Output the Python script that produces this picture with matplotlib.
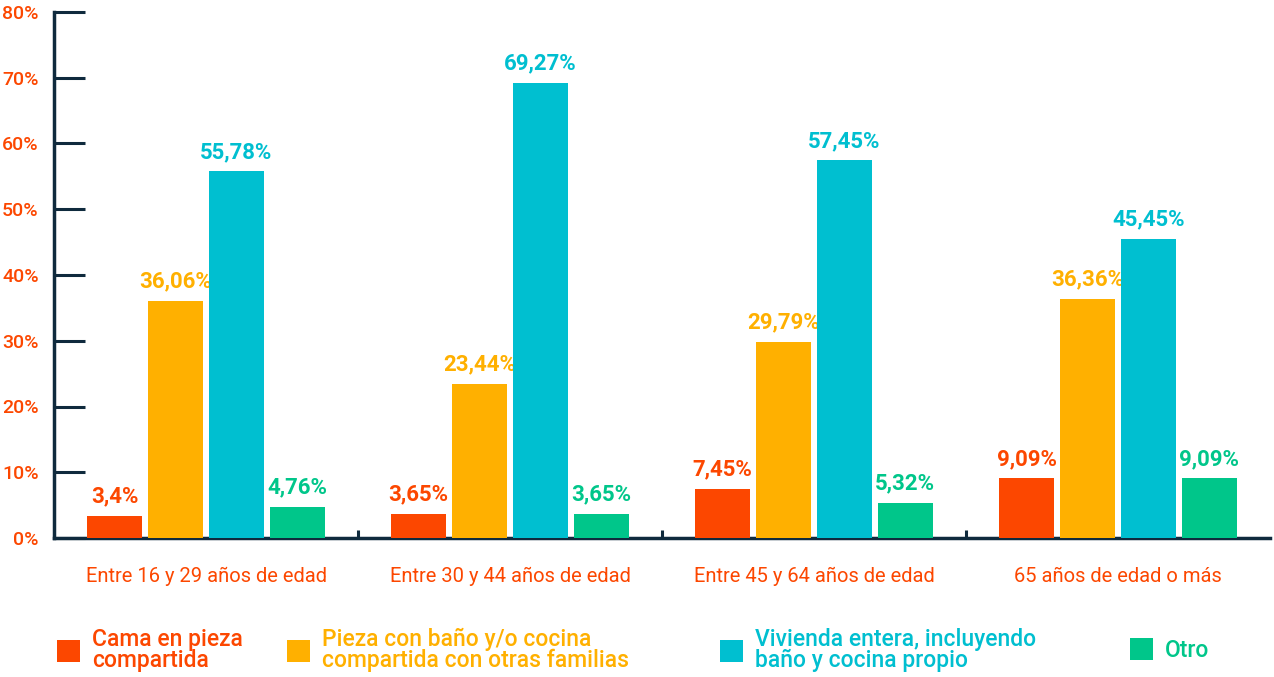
"""
Tipo de vivienda por grupo de edad - barras agrupadas
"""

import numpy as np
import matplotlib.pyplot as plt
from matplotlib.ticker import FuncFormatter

plt.rcParams['font.family'] = ['Roboto', 'DejaVu Sans']

# data
age_groups = ['Entre 16 y 29 años de edad', 'Entre 30 y 44 años de edad',
              'Entre 45 y 64 años de edad', '65 años de edad o más']
series_names = ['Cama en pieza\ncompartida',
                'Pieza con baño y/o cocina\ncompartida con otras familias',
                'Vivienda entera, incluyendo\nbaño y cocina propio',
                'Otro']
cama = [3.4, 3.65, 7.45, 9.09]
pieza = [36.06, 23.44, 29.79, 36.36]
vivienda = [55.78, 69.27, 57.45, 45.45]
otro = [4.76, 3.65, 5.32, 9.09]

colors = ['#FC4700', '#FFB000', '#00BFD0', '#00C68A']
axis_color = '#0F2A3D'
label_red = '#FC4700'

fig = plt.figure(figsize=(12.74, 6.77), dpi=100)
ax = fig.add_axes([54 / 1274, 1 - 538 / 677, 1216 / 1274, 526 / 677])

x = np.arange(len(age_groups))
width = 0.18
offsets = [-0.3, -0.1, 0.1, 0.3]
bars = []
for vals, off, col in zip([cama, pieza, vivienda, otro], offsets, colors):
    b = ax.bar(x + off, vals, width, color=col, zorder=3)
    bars.append(b)
    labels = [f'{v:g}'.replace('.', ',') + '%' for v in vals]
    ax.bar_label(b, labels=labels, padding=6, color=col, fontsize=16,
                 fontweight='bold')

ax.set_xlim(-0.5, 3.5)
ax.set_ylim(0, 80)
ax.set_yticks(np.arange(0, 81, 10))
ax.yaxis.set_major_formatter(FuncFormatter(lambda v, p: f'{v:.0f}%'))

ax.set_xticks(x)
ax.set_xticklabels(age_groups)
ax.set_xticks([0.5, 1.5, 2.5], minor=True)

for side in ['top', 'right']:
    ax.spines[side].set_visible(False)
for side in ['left', 'bottom']:
    ax.spines[side].set_color(axis_color)
    ax.spines[side].set_linewidth(2.5)
    ax.spines[side].set_zorder(2)

ax.tick_params(axis='y', direction='in', length=22, width=2.2,
               color=axis_color, labelcolor=label_red, labelsize=14, pad=11)
ax.tick_params(axis='x', which='major', length=0, labelcolor=label_red,
               labelsize=14.5, pad=21)
ax.tick_params(axis='x', which='minor', direction='in', length=6, width=2.2,
               color=axis_color)
for t in ax.get_yticklabels():
    t.set_fontweight('medium')

# legend, one entry per block
legend_x = [46 / 1274, 276 / 1274, 709 / 1274, 1119 / 1274]
for b, name, col, lx in zip(bars, series_names, colors, legend_x):
    leg = fig.legend([b], [name], loc='center left',
                     bbox_to_anchor=(lx, 1 - 650 / 677), frameon=False,
                     fontsize=16.5, handlelength=1.0, handleheight=1.1,
                     handletextpad=0.5, labelcolor=col, borderpad=0)
    for t in leg.get_texts():
        t.set_linespacing(0.92)
        t.set_fontweight('medium')

plt.savefig('out.png', dpi=100)
